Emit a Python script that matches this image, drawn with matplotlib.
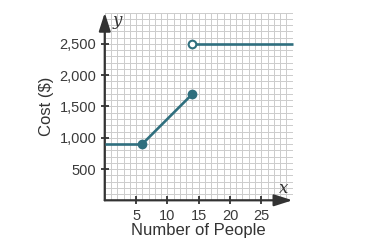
import matplotlib
matplotlib.use("Agg")
import matplotlib.pyplot as plt

# Data
seg1_x = [0, 6]
seg1_y = [900, 900]
seg2_x = [6, 14]
seg2_y = [900, 1700]
seg3_x = [14, 30]
seg3_y = [2500, 2500]
closed_x = [6, 14]
closed_y = [900, 1700]
open_x = [14]
open_y = [2500]
xticks = [5, 10, 15, 20, 25]
yticks = [500, 1000, 1500, 2000, 2500]
ytick_labels = ["500", "1,000", "1,500", "2,000", "2,500"]

teal = "#2f6f7e"
axis_col = "#333333"

plt.rcParams['font.family'] = ['Liberation Sans', 'DejaVu Sans']

fig = plt.figure(figsize=(3.88, 2.49), dpi=100)
ax = fig.add_axes([0.27, 0.1956, 0.754 - 0.27, 0.949 - 0.1956])
ax.set_xlim(0, 30)
ax.set_ylim(0, 3000)

# grid
ax.set_xticks(range(0, 31), minor=True)
ax.set_yticks(range(0, 3001, 100), minor=True)
ax.grid(True, which='both', color='#cccccc', lw=0.7)
ax.set_axisbelow(True)
ax.tick_params(which='minor', length=0)

ax.set_xticks(xticks)
ax.set_xticklabels([str(v) for v in xticks])
ax.set_yticks(yticks)
ax.set_yticklabels(ytick_labels)
ax.tick_params(which='major', direction='inout', length=6, width=1.3,
               color=axis_col, labelsize=10.5, labelcolor='#3a3a3a', pad=3)

for s in ax.spines.values():
    s.set_visible(False)

# axes with arrows
ax.annotate('', xy=(0, 3000), xytext=(0, 0),
            arrowprops=dict(arrowstyle='-|>,head_length=1.1,head_width=0.35',
                            color=axis_col, lw=1.6, shrinkA=0, shrinkB=0),
            annotation_clip=False)
ax.annotate('', xy=(30, 0), xytext=(0, 0),
            arrowprops=dict(arrowstyle='-|>,head_length=1.1,head_width=0.35',
                            color=axis_col, lw=1.6, shrinkA=0, shrinkB=0),
            annotation_clip=False)

# data
kw = dict(color=teal, lw=1.9, solid_capstyle='butt', clip_on=False, zorder=3)
ax.plot(seg1_x, seg1_y, **kw)
ax.plot(seg2_x, seg2_y, **kw)
ax.plot(seg3_x, seg3_y, **kw)
ax.plot(closed_x, closed_y, 'o', color=teal, ms=6, clip_on=False, zorder=4)
ax.plot(open_x, open_y, 'o', mfc='white', mec=teal, mew=1.5, ms=5.5,
        clip_on=False, zorder=4)

ax.text(2.0, 2880, 'y', fontsize=12, style='italic', family='DejaVu Serif',
        color='#333333', ha='center', va='center')
ax.text(28.6, 196, 'x', fontsize=12, style='italic', family='DejaVu Serif',
        color='#333333', ha='center', va='center')

ax.set_xlabel('Number of People', fontsize=12, color='#333333', labelpad=0.5)
ax.set_ylabel('Cost ($)', fontsize=12, color='#333333', labelpad=4)

fig.savefig('out.png', dpi=100)
